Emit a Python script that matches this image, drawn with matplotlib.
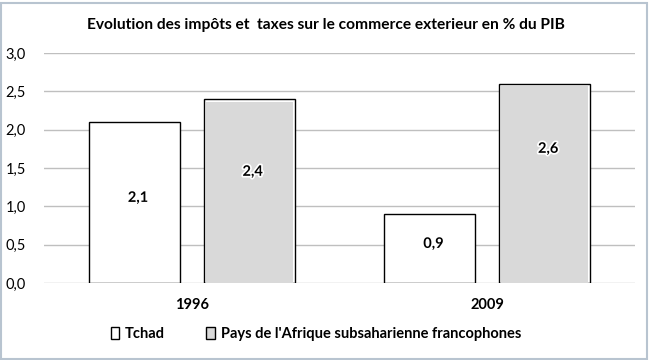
import matplotlib.pyplot as plt
import matplotlib.patheffects as pe
import numpy as np
from matplotlib.patches import Rectangle

plt.rcParams['font.family'] = ['Lato', 'DejaVu Sans']

# donnees
annees = ['1996', '2009']
tchad = [2.1, 0.9]
afrique = [2.4, 2.6]
series = ['Tchad', "Pays de l'Afrique subsaharienne francophones"]
yticks = [0.0, 0.5, 1.0, 1.5, 2.0, 2.5, 3.0]
# hauteur des etiquettes (placees a la main dans l'original)
pos_tchad = [1.11, 0.51]
pos_afrique = [1.45, 1.75]

fig = plt.figure(figsize=(6.51, 3.6), dpi=100)
ax = fig.add_axes([44 / 651, 1 - 283 / 360, 591 / 651, 230 / 360])

x = np.arange(len(annees))
w = 0.308
off = 0.194
b1 = ax.bar(x - off, tchad, w, color='white', edgecolor='black', linewidth=1, label=series[0], zorder=3)
b2 = ax.bar(x + off, afrique, w, color='white', edgecolor='black', linewidth=1, zorder=3)
# remplissage gris avec un petit liseré blanc
b2in = ax.bar(x + off, np.array(afrique) - 0.035, w - 0.014, color='#d9d9d9', linewidth=0,
              label=series[1], zorder=3.5)

for bars, vals, pos in ((b1, tchad, pos_tchad), (b2, afrique, pos_afrique)):
    for r, v, p in zip(bars, vals, pos):
        ax.text(r.get_x() + r.get_width() / 2 + 0.012, p, f'{v:.1f}'.replace('.', ','),
                ha='center', va='center', fontsize=10.5, fontweight='bold', zorder=4,
                path_effects=[pe.withStroke(linewidth=2.5, foreground='white')])

ax.set_xlim(-0.5, 1.5)
ax.set_ylim(0, 3.0)
ax.set_yticks(yticks)
ax.set_yticklabels([f'{t:.1f}'.replace('.', ',') for t in yticks], fontsize=10.5)
ax.set_xticks(x)
ax.set_xticklabels(annees, fontsize=10.5, fontweight='bold')
ax.tick_params(axis='y', length=0, pad=13)
ax.tick_params(axis='x', length=0, pad=11)
ax.grid(axis='y', color='#bfbfbf', linewidth=1, zorder=0)
for s in ax.spines.values():
    s.set_visible(False)

fig.suptitle('Evolution des impôts et  taxes sur le commerce exterieur en % du PIB',
             y=1 - 25 / 360, va='center', fontsize=11.2, fontweight='bold')

leg_b1 = Rectangle((0, 0), 1, 1, facecolor='white', edgecolor='black', linewidth=1)
leg_b2 = Rectangle((0, 0), 1, 1, facecolor='#d9d9d9', edgecolor='black', linewidth=1)
fig.legend(handles=[leg_b1, leg_b2], labels=series, loc='center', bbox_to_anchor=(0.485, 1 - 334 / 360),
           ncol=2, frameon=False, prop={'weight': 'bold', 'size': 10.5},
           handlelength=0.6, handleheight=0.8, handletextpad=0.4, columnspacing=2.8)

fig.patches.append(Rectangle((1 / 651, 1 / 360), 646 / 651, 356 / 360, transform=fig.transFigure,
                             fill=False, edgecolor='#b8c4d0', linewidth=1.5))

fig.savefig('out.png', dpi=100)
